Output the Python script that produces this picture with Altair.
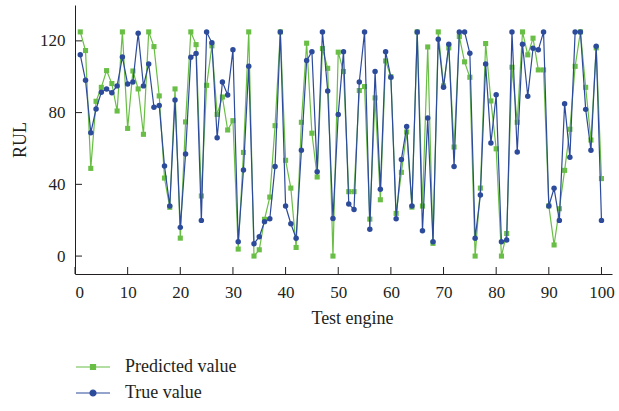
import altair as alt
import pandas as pd

engines = list(range(1, 101))

predicted = [125, 114.6, 48.9, 86.3, 94.1, 103.4, 96.2, 80.9, 125, 71.2, 103.2, 93.2, 67.9, 125, 116.8, 89.3, 43.5, 27.2, 93.2, 10,
             74.8, 125, 117.9, 33.5, 95.2, 117.2, 79, 88.7, 70.3, 75.5, 3.9, 57.8, 125, 0, 3.5, 20.5, 32.9, 72.7, 125, 53.4,
             37.9, 4.8, 74.6, 118.7, 68.5, 44.1, 115.7, 104.7, 0, 113.7, 102.9, 35.9, 35.9, 92.3, 94.5, 20.6, 88.2, 31.4, 108.8, 100,
             23.8, 46.7, 69.2, 27.3, 125, 27.9, 116.6, 7.1, 125, 94.9, 116.1, 60.8, 122.4, 108.3, 99.7, 0, 37.9, 118.5, 86.5, 59.8,
             0, 12.6, 105.3, 74.6, 125, 112.2, 121.5, 103.8, 103.8, 28, 6.2, 26.4, 47.8, 70.7, 105.8, 125, 94.1, 64.7, 116.1, 43.2]

true_vals = [112.2, 98, 68.8, 82, 91.3, 93.2, 91.1, 94.9, 111, 96, 97.1, 124.3, 94.9, 107.1, 83, 83.9, 50.2, 27.9, 87, 16,
             56.9, 110.9, 112.9, 19.9, 125, 118.9, 66, 97.1, 89.8, 115.1, 8, 48, 105.8, 6.9, 10.8, 19.2, 20.8, 50, 125, 27.9,
             18, 9.9, 59, 109, 114, 47, 125, 92.1, 21, 79, 114, 29, 26, 97.1, 125, 14.9, 102.9, 37.2, 114, 99.7,
             20.8, 53.9, 72.2, 27.9, 125, 14.1, 77, 8, 120.9, 94.1, 118.1, 50, 125, 125, 113.1, 9.9, 34, 107.1, 63, 89.9,
             8, 8.9, 125, 58, 118.1, 89.1, 115.9, 115, 125, 27.9, 37.8, 19.9, 85, 55.1, 125, 125, 81.8, 59, 117, 19.9]

series_names = ["Predicted value", "True value"]
x_ticks = [0, 10, 20, 30, 40, 50, 60, 70, 80, 90, 100]
y_ticks = [0, 40, 80, 120]

GREEN = "#69BE45"
BLUE = "#2D4B9B"
TEXT = "#231F20"
FONT = "Liberation Serif"

df = pd.DataFrame({
    "engine": engines * 2,
    "value": predicted + true_vals,
    "series": [series_names[0]] * 100 + [series_names[1]] * 100,
})
xt = pd.DataFrame({"t": x_ticks})
yt = pd.DataFrame({"t": y_ticks})

xs = alt.Scale(domain=[0, 102], nice=False, zero=False)
ys = alt.Scale(domain=[-10, 140], nice=False, zero=False)

x_enc = alt.X("engine:Q", scale=xs, axis=alt.Axis(values=x_ticks, title="Test engine", ticks=False,
                                                   labelPadding=10, titlePadding=9, grid=False,
                                                   titleX=277, titleAlign="center"))
y_enc = alt.Y("value:Q", scale=ys, axis=alt.Axis(values=y_ticks, title="RUL", ticks=False,
                                                  labelPadding=10, titlePadding=10, grid=False))

base = alt.Chart(df).encode(x=x_enc, y=y_enc)

pred_line = base.transform_filter(alt.datum.series == series_names[0]).mark_line(color=GREEN, strokeWidth=1.2)
pred_pts = base.transform_filter(alt.datum.series == series_names[0]).mark_point(
    shape="square", filled=True, size=26, color=GREEN, opacity=1)
true_line = base.transform_filter(alt.datum.series == series_names[1]).mark_line(color=BLUE, strokeWidth=1.2)
true_pts = base.transform_filter(alt.datum.series == series_names[1]).mark_point(
    shape="circle", filled=True, size=30, color=BLUE, opacity=1)

sq = "M-1.42,0H1.42M-0.21,-0.21H0.21V0.21H-0.21Z"
ci = "M-1.42,0H1.42M0.25,0A0.25,0.25,0,1,1,-0.25,0A0.25,0.25,0,1,1,0.25,0Z"
col_scale = alt.Scale(domain=series_names, range=[GREEN, BLUE])
shp_scale = alt.Scale(domain=series_names, range=[sq, ci])
leg = alt.Legend(title=None, orient="none", legendX=5, legendY=349, symbolSize=576,
                 symbolStrokeWidth=1.2, labelOffset=19, rowPadding=4, padding=0,
                 labelFont=FONT, labelFontSize=18, labelColor=TEXT, labelLimit=300)
carrier = base.transform_filter("datum.engine < 0").mark_point(filled=True, opacity=1).encode(
    fill=alt.Fill("series:N", scale=col_scale, legend=leg),
    stroke=alt.Stroke("series:N", scale=col_scale, legend=leg),
    shape=alt.Shape("series:N", scale=shp_scale, legend=leg),
)

ytick_layer = alt.Chart(yt).mark_rule(color=TEXT, strokeWidth=1).encode(
    y=alt.Y("t:Q", scale=ys), x=alt.value(0), x2=alt.value(7))
xtick_layer = alt.Chart(xt).mark_rule(color=TEXT, strokeWidth=1).encode(
    x=alt.X("t:Q", scale=xs), y=alt.value(269), y2=alt.value(262))

chart = alt.layer(ytick_layer, xtick_layer, pred_line, pred_pts, true_line, true_pts, carrier).properties(
    width=537, height=269,
    autosize=alt.AutoSizeParams(type="none"),
    padding={"left": 75, "top": 5, "right": 7, "bottom": 137},
).configure_view(stroke=None).configure_axis(
    domainColor=TEXT, domainWidth=1,
    labelFont=FONT, labelFontSize=17, labelColor=TEXT,
    titleFont=FONT, titleFontSize=18, titleColor=TEXT, titleFontWeight="normal",
)

chart.save("out.html", embed_options={"renderer": "svg", "actions": False})
